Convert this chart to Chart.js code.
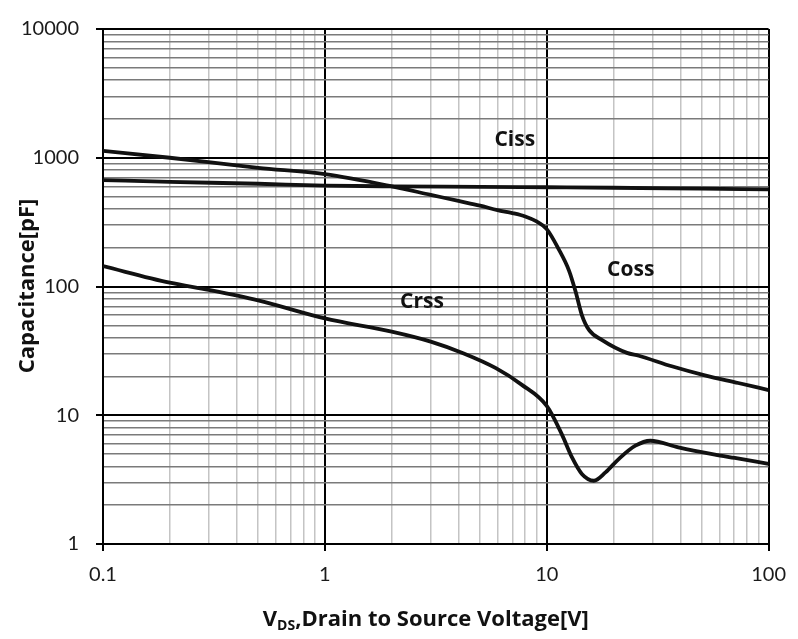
<!DOCTYPE html>
<html>
<head>
<meta charset="utf-8">
<script src="https://cdn.jsdelivr.net/npm/chart.js@4"></script>
<style>
  html, body { margin: 0; padding: 0; background: #fff; }
  #wrap { width: 798px; height: 639px; }
</style>
</head>
<body>
<div id="wrap"><canvas id="c" width="798" height="639"></canvas></div>
<script>
// ---- data ----
const cissX = [0.1, 0.2, 0.5, 1, 2, 5, 10, 20, 50, 100];
const cissY = [670, 650, 628, 608, 600, 595, 590, 585, 575, 568];

const cossX = [0.1, 0.2, 0.5, 1, 2, 3, 4, 5, 6, 7, 8, 9, 10, 11.3, 12.6, 13.5, 14.4, 15.5, 17.7, 23, 26, 36.6, 51.6, 73, 100];
const cossY = [1130, 1000, 835, 745, 600, 515, 462, 425, 392, 372, 350, 320, 279, 196, 133, 91, 60, 46, 38.5, 30.5, 29, 24, 20.4, 17.8, 15.7];

const crssX = [0.1, 0.2, 0.3, 0.5, 1, 2, 3, 4.2, 5.9, 7.7, 10, 11.7, 13, 14.4, 16.3, 18.4, 21.1, 25.1, 29.3, 39.2, 57.3, 70.4, 100];
const crssY = [144, 107, 94, 78, 56.5, 44.6, 37.3, 30.3, 23.2, 17.3, 11.8, 7.1, 4.7, 3.5, 3.1, 3.6, 4.57, 5.8, 6.34, 5.63, 4.95, 4.66, 4.2];

const curveNames = ['Ciss', 'Coss', 'Crss'];
const nameX = [7.18, 23.9, 2.74];
const nameY = [1371, 134, 76];

const xTicks = [0.1,0.2,0.3,0.4,0.5,0.6,0.7,0.8,0.9,1,2,3,4,5,6,7,8,9,10,20,30,40,50,60,70,80,90,100];
const yTicks = [1,2,3,4,5,6,7,8,9,10,20,30,40,50,60,70,80,90,100,200,300,400,500,600,700,800,900,1000,2000,3000,4000,5000,6000,7000,8000,9000,10000];
const xTickLabels = ['0.1', '1', '10', '100'];
const yTickLabels = ['1', '10', '100', '1000', '10000'];

const xTitleMain = 'V';
const xTitleSub = 'DS';
const xTitleRest = ',Drain to Source Voltage[V]';
const yTitle = 'Capacitance[pF]';

// ---- helpers ----
const pts = (xs, ys) => xs.map((x, i) => ({ x: x, y: ys[i] }));
const isMajor = v => Math.abs(Math.log10(v) - Math.round(Math.log10(v))) < 1e-9;
const lbl = (v, labels) => {
  const s = labels.find(l => Math.abs(parseFloat(l) - v) < 1e-9 * Math.max(1, v));
  return s !== undefined ? s : '';
};
const mkSet = (xs, ys) => ({
  data: pts(xs, ys),
  borderColor: '#111',
  borderWidth: 3.8,
  pointRadius: 0,
  fill: false,
  cubicInterpolationMode: 'monotone'
});

const titlesPlugin = {
  id: 'titles',
  afterDraw(chart) {
    const ctx = chart.ctx;
    const a = chart.chartArea;
    const xs = chart.scales.x, ys = chart.scales.y;
    ctx.save();
    ctx.fillStyle = '#111';
    // curve names
    ctx.font = 'bold 21px "Open Sans"';
    ctx.textAlign = 'center';
    ctx.textBaseline = 'middle';
    curveNames.forEach((n, i) => {
      ctx.fillText(n, xs.getPixelForValue(nameX[i]), ys.getPixelForValue(nameY[i]));
    });
    // x title with subscript
    const big = 'bold 22px "Open Sans"', small = 'bold 14px "Open Sans"';
    ctx.font = big; const w1 = ctx.measureText(xTitleMain).width;
    const w3 = ctx.measureText(xTitleRest).width;
    ctx.font = small; const w2 = ctx.measureText(xTitleSub).width;
    const total = w1 + w2 + w3;
    let x0 = (a.left + a.right) / 2 - 10 - total / 2;
    const base = 626;
    ctx.textAlign = 'left';
    ctx.textBaseline = 'alphabetic';
    ctx.font = big; ctx.fillText(xTitleMain, x0, base);
    ctx.font = small; ctx.fillText(xTitleSub, x0 + w1, base + 4);
    ctx.font = big; ctx.fillText(xTitleRest, x0 + w1 + w2, base);
    // y title
    ctx.translate(28, 286);
    ctx.rotate(-Math.PI / 2);
    ctx.textAlign = 'center';
    ctx.textBaseline = 'middle';
    ctx.font = 'bold 22px "Open Sans"';
    ctx.fillText(yTitle, 0, 0);
    ctx.restore();
  }
};

new Chart(document.getElementById('c'), {
  type: 'line',
  data: { datasets: [mkSet(cissX, cissY), mkSet(cossX, cossY), mkSet(crssX, crssY)] },
  options: {
    responsive: false,
    animation: false,
    layout: { padding: { top: 25, right: 28, left: 0, bottom: 0 } },
    plugins: { legend: { display: false }, tooltip: { enabled: false } },
    scales: {
      x: {
        type: 'logarithmic',
        min: 0.1, max: 100,
        afterBuildTicks: s => { s.ticks = xTicks.map(v => ({ value: v })); },
        afterFit: s => { s.height = 95; },
        border: { display: true, color: '#000', width: 2 },
        grid: {
          color: c => isMajor(c.tick.value) ? '#000' : '#c4c4c4',
          lineWidth: c => isMajor(c.tick.value) ? 2 : 1.5,
          tickColor: c => isMajor(c.tick.value) ? '#000' : 'rgba(0,0,0,0)',
          tickLength: 7
        },
        ticks: {
          autoSkip: false,
          maxRotation: 0,
          padding: 12,
          color: '#1a1a1a',
          font: { family: 'Lato', size: 20 },
          callback: v => lbl(v, xTickLabels)
        }
      },
      y: {
        type: 'logarithmic',
        min: 1, max: 10000,
        afterBuildTicks: s => { s.ticks = yTicks.map(v => ({ value: v })); },
        afterFit: s => { s.width = 103; },
        border: { display: true, color: '#000', width: 2 },
        grid: {
          color: c => isMajor(c.tick.value) ? '#000' : '#7a7a7a',
          lineWidth: c => isMajor(c.tick.value) ? 2 : 1.5,
          tickColor: c => isMajor(c.tick.value) ? '#000' : 'rgba(0,0,0,0)',
          tickLength: 7
        },
        ticks: {
          autoSkip: false,
          padding: 17,
          color: '#1a1a1a',
          font: { family: 'Lato', size: 20 },
          callback: v => lbl(v, yTickLabels)
        }
      }
    }
  },
  plugins: [titlesPlugin]
});
</script>
</body>
</html>
